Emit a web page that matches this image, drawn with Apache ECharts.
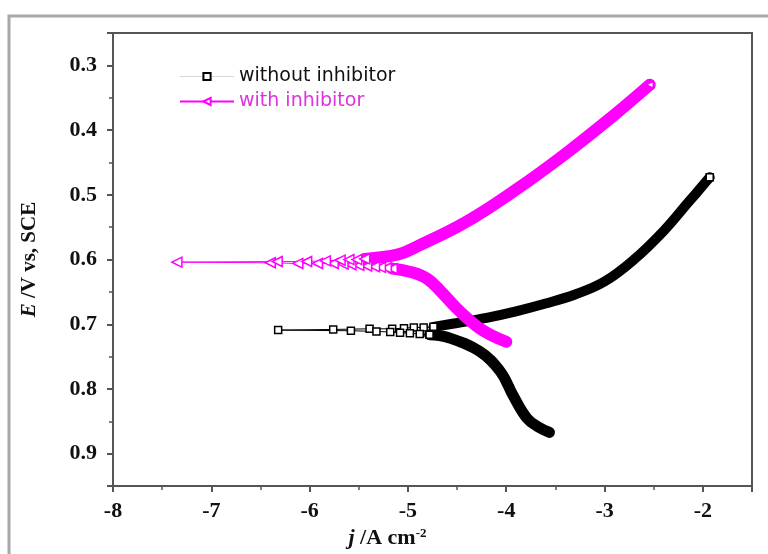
<!DOCTYPE html>
<html>
<head>
<meta charset="utf-8">
<script src="https://cdn.jsdelivr.net/npm/echarts@6/dist/echarts.min.js"></script>
<style>
html, body { margin: 0; padding: 0; background: #fff; }
#chart { width: 768px; height: 554px; }
</style>
</head>
<body>
<div id="chart"></div>
<script>
// log j (A cm-2) vs E (V vs SCE)

// without inhibitor - sparse points around Ecorr
const noInhNearX = [-4.74, -4.84, -4.94, -5.04, -5.16, -5.39, -5.76, -6.32, -5.58, -5.32, -5.18, -5.08, -4.98, -4.88, -4.78]
const noInhNearE = [0.704, 0.705, 0.705, 0.706, 0.707, 0.707, 0.708, 0.709, 0.710, 0.711, 0.712, 0.713, 0.714, 0.715, 0.716]
// without inhibitor - anodic branch
const noInhAnoX = [-4.74, -4.5, -4.2, -3.9, -3.6, -3.3, -3.0, -2.7, -2.4, -2.15, -1.93]
const noInhAnoE = [0.704, 0.698, 0.690, 0.680, 0.668, 0.654, 0.634, 0.600, 0.556, 0.512, 0.473]
// without inhibitor - cathodic branch
const noInhCatX = [-4.78, -4.6, -4.27, -4.06, -3.93, -3.79, -3.68, -3.56]
const noInhCatE = [0.716, 0.720, 0.742, 0.773, 0.810, 0.845, 0.858, 0.867]

// with inhibitor - sparse points around Ecorr
const inhNearX = [-5.16, -5.22, -5.28, -5.34, -5.42, -5.50, -5.58, -5.66, -5.76, -5.92, -6.12, -6.40, -7.35, -6.33, -6.03, -5.84, -5.69, -5.60, -5.52, -5.44]
const inhNearE = [0.614, 0.613, 0.612, 0.611, 0.610, 0.609, 0.608, 0.607, 0.606, 0.606, 0.606, 0.605, 0.604, 0.603, 0.603, 0.602, 0.601, 0.600, 0.600, 0.599]
// with inhibitor - anodic branch
const inhAnoX = [-5.44, -5.1, -4.91, -4.41, -3.91, -3.41, -2.92, -2.54]
const inhAnoE = [0.599, 0.592, 0.580, 0.542, 0.493, 0.438, 0.379, 0.330]
// with inhibitor - cathodic branch
const inhCatX = [-5.16, -4.95, -4.8, -4.66, -4.5, -4.3, -4.15, -4.0]
const inhCatE = [0.614, 0.620, 0.630, 0.650, 0.676, 0.703, 0.717, 0.727]

const names = ['without inhibitor', 'with inhibitor']
const BLACK = '#000'
const MAGENTA = '#ff00ff'

const zip = (xs, ys) => xs.map((x, i) => [x, ys[i]])

// last point of a branch gets an open marker, like the end of the scan
function branch(xs, ys, endSymbol, endRotate, color) {
  const pts = zip(xs, ys)
  return pts.map((p, i) => {
    if (i !== pts.length - 1 || !endSymbol) return p
    return {
      value: p,
      symbol: endSymbol,
      symbolSize: 7,
      symbolRotate: endRotate,
      itemStyle: { color: '#fff', borderColor: color, borderWidth: 1.5 },
    }
  })
}

const serif = 'Liberation Serif'
const chart = echarts.init(document.getElementById('chart'))

chart.setOption({
  animation: false,
  backgroundColor: '#fff',
  graphic: [{
    type: 'rect',
    shape: { x: 9, y: 16, width: 820, height: 600 },
    style: { fill: 'none', stroke: '#a8a8a8', lineWidth: 3 },
    silent: true,
  }],
  grid: {
    left: 113,
    top: 33,
    right: 16,
    bottom: 67,
    show: true,
    borderColor: '#555',
    borderWidth: 2,
  },
  legend: {
    orient: 'vertical',
    left: 174,
    top: 62,
    itemWidth: 54,
    itemHeight: 9,
    itemGap: 6,
    textStyle: { fontFamily: 'DejaVu Sans', fontSize: 19 },
    data: [
      { name: names[0], textStyle: { color: '#111' }, lineStyle: { color: '#d8d8d8', width: 1 } },
      { name: names[1], textStyle: { color: '#dd33dd' } },
    ],
  },
  xAxis: {
    type: 'value',
    min: -8,
    max: -1.5,
    interval: 1,
    splitLine: { show: false },
    axisLine: { onZero: false, lineStyle: { color: '#555', width: 2 } },
    axisTick: { length: 6, lineStyle: { color: '#555', width: 2 } },
    minorTick: { show: true, splitNumber: 2, length: 4, lineStyle: { color: '#555', width: 1.5 } },
    axisLabel: {
      showMaxLabel: false,
      margin: 14,
      color: '#111',
      fontFamily: serif,
      fontWeight: 'bold',
      fontSize: 22,
    },
    name: '{i|j} /A cm{s|-2}',
    nameLocation: 'middle',
    nameGap: 40,
    nameTextStyle: {
      color: '#111',
      fontFamily: serif,
      fontWeight: 'bold',
      fontSize: 22,
      padding: [0, 90, 0, 0],
      rich: {
        i: { fontFamily: serif, fontWeight: 'bold', fontStyle: 'italic', fontSize: 22, color: '#111' },
        s: { fontFamily: serif, fontWeight: 'bold', fontSize: 13, color: '#111', verticalAlign: 'top' },
      },
    },
  },
  yAxis: {
    type: 'value',
    inverse: true,
    min: 0.25,
    max: 0.95,
    splitNumber: 7,
    splitLine: { show: false },
    axisLine: { onZero: false, lineStyle: { color: '#555', width: 2 } },
    axisTick: { length: 6, lineStyle: { color: '#555', width: 2 } },
    minorTick: { show: true, splitNumber: 2, length: 4, lineStyle: { color: '#555', width: 1.5 } },
    axisLabel: {
      showMinLabel: false,
      showMaxLabel: false,
      margin: 16,
      color: '#111',
      fontFamily: serif,
      fontWeight: 'bold',
      fontSize: 22,
      formatter: v => v.toFixed(1),
    },
    name: '{i|E} /V vs, SCE',
    nameLocation: 'middle',
    nameGap: 73,
    nameTextStyle: {
      color: '#111',
      fontFamily: serif,
      fontWeight: 'bold',
      fontSize: 21,
      rich: {
        i: { fontFamily: serif, fontWeight: 'bold', fontStyle: 'italic', fontSize: 21, color: '#111' },
      },
    },
  },
  series: [
    {
      name: 'noInhAno',
      type: 'line',
      smooth: 0.4,
      symbol: 'none',
      showSymbol: true,
      data: branch(noInhAnoX, noInhAnoE, 'rect', 0, BLACK),
      lineStyle: { color: BLACK, width: 10, cap: 'round' },
      itemStyle: { color: BLACK },
      z: 2,
    },
    {
      name: 'noInhCat',
      type: 'line',
      smooth: 0.4,
      symbol: 'none',
      data: zip(noInhCatX, noInhCatE),
      lineStyle: { color: BLACK, width: 11, cap: 'round' },
      itemStyle: { color: BLACK },
      z: 2,
    },
    {
      name: names[0],
      type: 'line',
      symbol: 'rect',
      symbolSize: 7,
      data: zip(noInhNearX, noInhNearE),
      lineStyle: { color: BLACK, width: 1 },
      itemStyle: { color: '#fff', borderColor: BLACK, borderWidth: 1.5 },
      z: 3,
    },
    {
      name: 'inhAno',
      type: 'line',
      smooth: 0.4,
      symbol: 'none',
      showSymbol: true,
      data: branch(inhAnoX, inhAnoE, 'triangle', 90, MAGENTA),
      lineStyle: { color: MAGENTA, width: 12, cap: 'round' },
      itemStyle: { color: MAGENTA },
      z: 4,
    },
    {
      name: 'inhCat',
      type: 'line',
      smooth: 0.4,
      symbol: 'none',
      data: zip(inhCatX, inhCatE),
      lineStyle: { color: MAGENTA, width: 12, cap: 'round' },
      itemStyle: { color: MAGENTA },
      z: 4,
    },
    {
      name: names[1],
      type: 'line',
      symbol: 'triangle',
      symbolRotate: 90,
      symbolSize: 10,
      data: zip(inhNearX, inhNearE),
      lineStyle: { color: MAGENTA, width: 1 },
      itemStyle: { color: '#fff', borderColor: MAGENTA, borderWidth: 1.5 },
      z: 5,
    },
  ],
})
</script>
</body>
</html>
